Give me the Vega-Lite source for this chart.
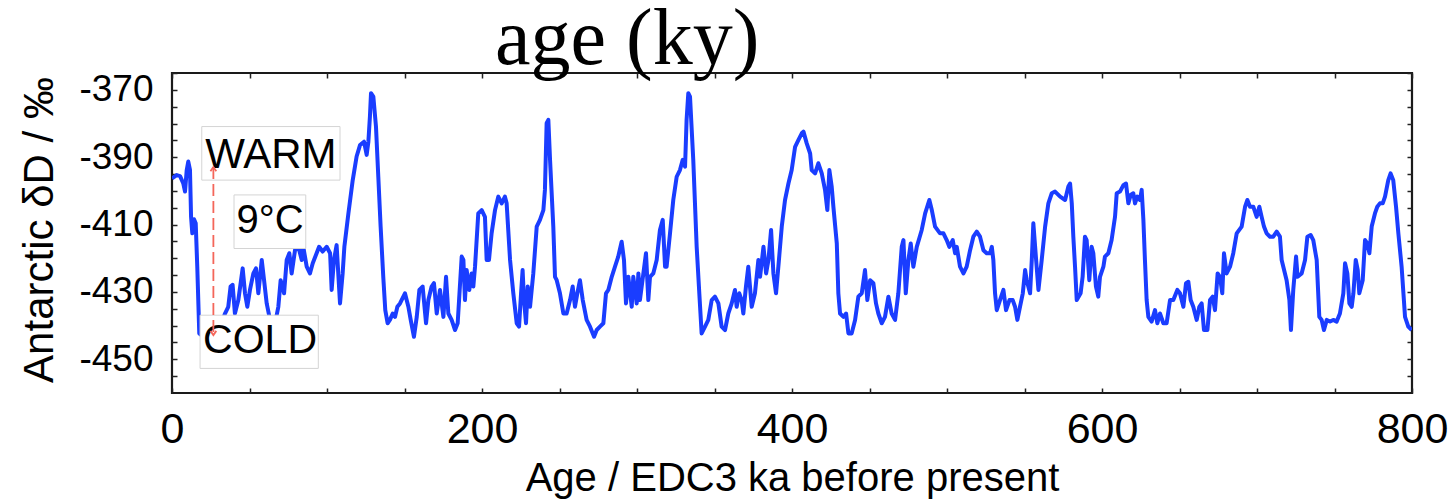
{
  "$schema": "https://vega.github.io/schema/vega-lite/v6.json",
  "width": 1240,
  "height": 320,
  "autosize": {"type": "none"},
  "padding": {"left": 172, "top": 73, "right": 43, "bottom": 111},
  "background": "white",
  "title": {
    "text": "age (ky)",
    "font": "Liberation Serif",
    "fontSize": 80,
    "fontWeight": "normal",
    "color": "#000",
    "anchor": "start",
    "frame": "group",
    "dx": 323,
    "offset": -90,
    "baseline": "alphabetic"
  },
  "config": {
    "view": {"stroke": "#1a1a1a", "strokeWidth": 2.2},
    "axis": {"grid": false, "domain": false, "tickColor": "#222", "tickWidth": 1.5, "labelColor": "#000", "titleColor": "#000", "labelFont": "Liberation Sans", "titleFont": "Liberation Sans", "titleFontWeight": "normal", "labelOverlap": false, "labelFlush": false}
  },
  "resolve": {"axis": {"x": "independent", "y": "independent"}},
  "layer": [
    {
      "data": {"values": [
        {"age": 0, "dD": -396.3}, {"age": 3.0, "dD": -395.3}, {"age": 5.2, "dD": -395.6}, {"age": 7.3, "dD": -397.8}, {"age": 8.4, "dD": -400.2},
        {"age": 9.5, "dD": -393.8}, {"age": 10.5, "dD": -391.3}, {"age": 11.6, "dD": -393.8}, {"age": 12.3, "dD": -407.7}, {"age": 13.1, "dD": -412.6},
        {"age": 14.2, "dD": -408.4}, {"age": 15.3, "dD": -409.6}, {"age": 16.3, "dD": -422.5}, {"age": 17.6, "dD": -442.3}, {"age": 20.2, "dD": -443.3},
        {"age": 26.7, "dD": -441.3}, {"age": 32.0, "dD": -439.3}, {"age": 34.2, "dD": -436.4}, {"age": 36.3, "dD": -434.4}, {"age": 37.8, "dD": -428.4},
        {"age": 39.1, "dD": -427.9}, {"age": 40.6, "dD": -436.4}, {"age": 42.8, "dD": -432.4}, {"age": 45.6, "dD": -423.0}, {"age": 47.1, "dD": -430.4},
        {"age": 48.6, "dD": -434.4}, {"age": 50.3, "dD": -429.4}, {"age": 52.5, "dD": -424.5}, {"age": 54.2, "dD": -423.0}, {"age": 55.7, "dD": -430.4},
        {"age": 57.9, "dD": -420.5}, {"age": 59.4, "dD": -426.5}, {"age": 61.1, "dD": -433.4}, {"age": 63.7, "dD": -439.3}, {"age": 66.5, "dD": -439.3},
        {"age": 68.6, "dD": -434.4}, {"age": 70.1, "dD": -426.5}, {"age": 72.3, "dD": -430.4}, {"age": 74.0, "dD": -420.5}, {"age": 75.7, "dD": -418.5},
        {"age": 77.2, "dD": -424.5}, {"age": 79.4, "dD": -417.5}, {"age": 81.5, "dD": -416.6}, {"age": 83.7, "dD": -420.5}, {"age": 84.7, "dD": -416.6},
        {"age": 86.9, "dD": -422.5}, {"age": 89.0, "dD": -424.5}, {"age": 90.8, "dD": -421.5}, {"age": 93.3, "dD": -418.5}, {"age": 94.9, "dD": -416.6},
        {"age": 97.2, "dD": -418.0}, {"age": 99.8, "dD": -416.6}, {"age": 102.0, "dD": -418.5}, {"age": 103.0, "dD": -429.4}, {"age": 104.5, "dD": -420.5},
        {"age": 106.2, "dD": -416.1}, {"age": 108.4, "dD": -433.4}, {"age": 110.1, "dD": -424.5}, {"age": 111.2, "dD": -416.6}, {"age": 113.8, "dD": -406.7},
        {"age": 116.6, "dD": -396.8}, {"age": 119.1, "dD": -389.8}, {"age": 121.3, "dD": -386.4}, {"age": 123.9, "dD": -385.4}, {"age": 125.6, "dD": -389.3},
        {"age": 126.7, "dD": -385.4}, {"age": 127.7, "dD": -377.9}, {"age": 128.4, "dD": -371.0}, {"age": 129.9, "dD": -372.0}, {"age": 131.6, "dD": -380.9},
        {"age": 133.1, "dD": -395.8}, {"age": 134.6, "dD": -410.6}, {"age": 136.3, "dD": -425.5}, {"age": 137.6, "dD": -435.4}, {"age": 139.1, "dD": -439.3},
        {"age": 140.6, "dD": -438.3}, {"age": 142.4, "dD": -436.4}, {"age": 143.9, "dD": -437.4}, {"age": 145.4, "dD": -434.4}, {"age": 147.1, "dD": -433.4},
        {"age": 150.3, "dD": -430.4}, {"age": 152.5, "dD": -434.4}, {"age": 154.0, "dD": -438.3}, {"age": 156.1, "dD": -443.3}, {"age": 157.9, "dD": -437.4},
        {"age": 159.6, "dD": -429.4}, {"age": 161.7, "dD": -428.4}, {"age": 163.9, "dD": -439.3}, {"age": 165.4, "dD": -432.4}, {"age": 167.5, "dD": -428.4},
        {"age": 169.0, "dD": -427.4}, {"age": 170.8, "dD": -436.4}, {"age": 172.9, "dD": -429.4}, {"age": 175.1, "dD": -437.4}, {"age": 176.8, "dD": -425.5},
        {"age": 178.3, "dD": -436.4}, {"age": 180.4, "dD": -438.3}, {"age": 182.6, "dD": -441.3}, {"age": 184.3, "dD": -439.3}, {"age": 186.9, "dD": -419.5},
        {"age": 188.0, "dD": -420.5}, {"age": 189.0, "dD": -432.4}, {"age": 190.1, "dD": -423.5}, {"age": 191.8, "dD": -429.4}, {"age": 193.3, "dD": -424.5},
        {"age": 194.4, "dD": -428.4}, {"age": 195.5, "dD": -422.5}, {"age": 197.6, "dD": -406.7}, {"age": 199.8, "dD": -405.7}, {"age": 201.9, "dD": -407.7},
        {"age": 203.0, "dD": -420.5}, {"age": 204.5, "dD": -420.5}, {"age": 206.2, "dD": -412.6}, {"age": 208.4, "dD": -405.7}, {"age": 210.5, "dD": -401.7},
        {"age": 212.7, "dD": -403.7}, {"age": 214.8, "dD": -401.7}, {"age": 215.9, "dD": -403.7}, {"age": 218.1, "dD": -420.5}, {"age": 220.2, "dD": -430.4},
        {"age": 222.4, "dD": -439.3}, {"age": 223.9, "dD": -440.3}, {"age": 225.2, "dD": -430.4}, {"age": 226.2, "dD": -423.5}, {"age": 227.1, "dD": -432.4},
        {"age": 228.4, "dD": -439.3}, {"age": 229.5, "dD": -428.4}, {"age": 231.0, "dD": -434.4}, {"age": 233.1, "dD": -424.5}, {"age": 235.3, "dD": -410.6},
        {"age": 237.4, "dD": -408.6}, {"age": 239.6, "dD": -405.7}, {"age": 240.6, "dD": -399.7}, {"age": 241.7, "dD": -379.9}, {"age": 242.8, "dD": -378.9},
        {"age": 243.9, "dD": -390.8}, {"age": 246.0, "dD": -410.6}, {"age": 247.1, "dD": -425.5}, {"age": 248.2, "dD": -426.5}, {"age": 250.3, "dD": -430.4},
        {"age": 252.5, "dD": -436.4}, {"age": 254.6, "dD": -436.4}, {"age": 256.8, "dD": -432.4}, {"age": 258.5, "dD": -428.4}, {"age": 260.0, "dD": -434.4},
        {"age": 261.5, "dD": -430.4}, {"age": 263.2, "dD": -426.5}, {"age": 265.0, "dD": -432.4}, {"age": 267.5, "dD": -438.3}, {"age": 269.7, "dD": -440.3},
        {"age": 272.3, "dD": -443.3}, {"age": 274.0, "dD": -441.3}, {"age": 276.1, "dD": -440.3}, {"age": 278.3, "dD": -439.3}, {"age": 280.0, "dD": -430.4},
        {"age": 281.5, "dD": -429.4}, {"age": 283.7, "dD": -425.5}, {"age": 285.8, "dD": -422.5}, {"age": 287.9, "dD": -419.5}, {"age": 290.1, "dD": -415.1},
        {"age": 291.6, "dD": -420.5}, {"age": 292.9, "dD": -433.4}, {"age": 294.4, "dD": -425.5}, {"age": 296.6, "dD": -434.4}, {"age": 297.6, "dD": -425.5},
        {"age": 299.8, "dD": -433.4}, {"age": 300.9, "dD": -424.5}, {"age": 301.9, "dD": -432.4}, {"age": 304.1, "dD": -424.5}, {"age": 305.8, "dD": -418.5},
        {"age": 307.3, "dD": -432.4}, {"age": 308.4, "dD": -425.5}, {"age": 310.5, "dD": -424.5}, {"age": 312.7, "dD": -420.5}, {"age": 314.8, "dD": -411.6},
        {"age": 316.6, "dD": -408.6}, {"age": 318.1, "dD": -422.5}, {"age": 319.1, "dD": -422.5}, {"age": 321.3, "dD": -412.6}, {"age": 323.4, "dD": -402.7},
        {"age": 325.6, "dD": -395.8}, {"age": 327.7, "dD": -393.8}, {"age": 329.5, "dD": -390.8}, {"age": 331.0, "dD": -392.8}, {"age": 332.0, "dD": -378.9},
        {"age": 333.1, "dD": -371.0}, {"age": 334.2, "dD": -372.0}, {"age": 336.3, "dD": -390.8}, {"age": 338.5, "dD": -416.6}, {"age": 340.2, "dD": -430.4},
        {"age": 341.7, "dD": -442.3}, {"age": 343.9, "dD": -440.3}, {"age": 346.0, "dD": -438.3}, {"age": 348.2, "dD": -432.4}, {"age": 350.3, "dD": -431.4},
        {"age": 352.5, "dD": -433.4}, {"age": 354.6, "dD": -440.3}, {"age": 356.8, "dD": -441.3}, {"age": 358.9, "dD": -436.4}, {"age": 361.1, "dD": -433.4},
        {"age": 363.2, "dD": -429.4}, {"age": 364.3, "dD": -434.4}, {"age": 366.0, "dD": -430.4}, {"age": 367.5, "dD": -432.4}, {"age": 368.6, "dD": -436.4},
        {"age": 370.3, "dD": -428.4}, {"age": 371.8, "dD": -422.5}, {"age": 374.0, "dD": -434.4}, {"age": 376.1, "dD": -430.4}, {"age": 378.3, "dD": -420.5},
        {"age": 379.4, "dD": -425.5}, {"age": 381.6, "dD": -416.6}, {"age": 383.3, "dD": -424.5}, {"age": 384.8, "dD": -420.5}, {"age": 386.5, "dD": -411.6},
        {"age": 388.0, "dD": -424.5}, {"age": 389.7, "dD": -430.4}, {"age": 391.2, "dD": -422.5}, {"age": 393.4, "dD": -410.6}, {"age": 395.5, "dD": -402.7},
        {"age": 397.7, "dD": -397.8}, {"age": 399.8, "dD": -393.8}, {"age": 402.0, "dD": -386.9}, {"age": 404.1, "dD": -384.9}, {"age": 406.3, "dD": -382.9},
        {"age": 407.4, "dD": -382.4}, {"age": 409.5, "dD": -385.9}, {"age": 411.7, "dD": -388.9}, {"age": 412.7, "dD": -393.8}, {"age": 414.9, "dD": -394.8},
        {"age": 417.0, "dD": -391.8}, {"age": 419.2, "dD": -394.8}, {"age": 421.3, "dD": -399.7}, {"age": 422.8, "dD": -405.7}, {"age": 424.1, "dD": -393.8},
        {"age": 425.6, "dD": -398.7}, {"age": 426.7, "dD": -404.7}, {"age": 428.9, "dD": -415.6}, {"age": 429.9, "dD": -430.4}, {"age": 431.0, "dD": -436.4},
        {"age": 433.2, "dD": -437.4}, {"age": 434.9, "dD": -436.4}, {"age": 436.4, "dD": -442.3}, {"age": 438.5, "dD": -442.3}, {"age": 440.7, "dD": -438.3},
        {"age": 442.8, "dD": -431.4}, {"age": 445.0, "dD": -430.4}, {"age": 447.1, "dD": -423.5}, {"age": 448.6, "dD": -432.4}, {"age": 450.4, "dD": -426.5},
        {"age": 452.5, "dD": -427.4}, {"age": 454.2, "dD": -433.4}, {"age": 455.7, "dD": -436.4}, {"age": 457.9, "dD": -439.3}, {"age": 460.0, "dD": -437.4},
        {"age": 462.2, "dD": -431.4}, {"age": 464.3, "dD": -436.4}, {"age": 466.5, "dD": -438.3}, {"age": 468.6, "dD": -430.4}, {"age": 470.8, "dD": -416.6},
        {"age": 471.9, "dD": -414.6}, {"age": 473.4, "dD": -430.4}, {"age": 475.1, "dD": -420.5}, {"age": 476.6, "dD": -415.6}, {"age": 478.3, "dD": -422.5},
        {"age": 480.5, "dD": -416.6}, {"age": 483.7, "dD": -411.6}, {"age": 485.9, "dD": -406.7}, {"age": 488.6, "dD": -402.7}, {"age": 490.2, "dD": -405.7},
        {"age": 492.3, "dD": -410.6}, {"age": 495.5, "dD": -412.6}, {"age": 497.7, "dD": -412.6}, {"age": 499.8, "dD": -414.6}, {"age": 501.5, "dD": -416.6},
        {"age": 503.7, "dD": -414.6}, {"age": 505.2, "dD": -418.5}, {"age": 506.3, "dD": -416.6}, {"age": 508.4, "dD": -422.5}, {"age": 510.6, "dD": -424.5},
        {"age": 512.7, "dD": -422.5}, {"age": 514.9, "dD": -417.6}, {"age": 517.0, "dD": -413.6}, {"age": 519.2, "dD": -412.1}, {"age": 521.3, "dD": -413.6},
        {"age": 523.5, "dD": -417.6}, {"age": 525.6, "dD": -418.5}, {"age": 527.8, "dD": -418.5}, {"age": 528.9, "dD": -416.6}, {"age": 529.9, "dD": -420.5},
        {"age": 531.0, "dD": -430.4}, {"age": 532.1, "dD": -435.4}, {"age": 534.2, "dD": -432.4}, {"age": 536.4, "dD": -429.4}, {"age": 538.1, "dD": -435.4},
        {"age": 540.3, "dD": -432.4}, {"age": 542.4, "dD": -432.4}, {"age": 543.9, "dD": -434.4}, {"age": 545.4, "dD": -438.3}, {"age": 547.1, "dD": -434.4},
        {"age": 548.9, "dD": -430.4}, {"age": 550.4, "dD": -423.5}, {"age": 551.4, "dD": -426.5}, {"age": 553.6, "dD": -430.4}, {"age": 554.7, "dD": -420.5},
        {"age": 555.7, "dD": -409.6}, {"age": 557.5, "dD": -420.5}, {"age": 559.0, "dD": -429.4}, {"age": 561.1, "dD": -420.5}, {"age": 563.3, "dD": -410.6},
        {"age": 565.4, "dD": -403.7}, {"age": 567.6, "dD": -400.7}, {"age": 569.7, "dD": -400.2}, {"age": 573.0, "dD": -401.7}, {"age": 576.2, "dD": -402.7},
        {"age": 578.3, "dD": -398.7}, {"age": 579.4, "dD": -397.8}, {"age": 580.5, "dD": -403.7}, {"age": 581.5, "dD": -413.6}, {"age": 582.6, "dD": -422.5},
        {"age": 583.7, "dD": -432.4}, {"age": 586.2, "dD": -430.4}, {"age": 587.5, "dD": -425.5}, {"age": 589.0, "dD": -413.6}, {"age": 590.1, "dD": -414.6},
        {"age": 591.8, "dD": -426.5}, {"age": 593.3, "dD": -416.6}, {"age": 594.4, "dD": -418.5}, {"age": 596.1, "dD": -428.4}, {"age": 597.6, "dD": -431.4},
        {"age": 598.7, "dD": -425.5}, {"age": 600.9, "dD": -422.5}, {"age": 601.9, "dD": -419.5}, {"age": 604.1, "dD": -418.5}, {"age": 606.2, "dD": -414.6},
        {"age": 608.4, "dD": -407.7}, {"age": 609.5, "dD": -400.7}, {"age": 611.6, "dD": -400.2}, {"age": 613.8, "dD": -398.3}, {"age": 615.5, "dD": -397.8},
        {"age": 617.0, "dD": -403.7}, {"age": 618.5, "dD": -401.2}, {"age": 620.2, "dD": -400.7}, {"age": 621.3, "dD": -403.7}, {"age": 622.8, "dD": -401.7},
        {"age": 624.5, "dD": -402.7}, {"age": 625.6, "dD": -399.7}, {"age": 626.7, "dD": -408.6}, {"age": 627.7, "dD": -420.5}, {"age": 628.8, "dD": -432.4},
        {"age": 629.9, "dD": -437.4}, {"age": 632.0, "dD": -438.8}, {"age": 634.2, "dD": -435.4}, {"age": 635.7, "dD": -439.3}, {"age": 637.4, "dD": -436.4},
        {"age": 639.6, "dD": -439.3}, {"age": 641.7, "dD": -439.3}, {"age": 643.9, "dD": -432.4}, {"age": 646.0, "dD": -432.4}, {"age": 648.6, "dD": -429.4},
        {"age": 650.3, "dD": -430.4}, {"age": 652.5, "dD": -434.4}, {"age": 654.2, "dD": -427.4}, {"age": 655.7, "dD": -427.0}, {"age": 657.2, "dD": -432.4},
        {"age": 658.9, "dD": -434.4}, {"age": 661.1, "dD": -438.3}, {"age": 662.8, "dD": -434.4}, {"age": 664.3, "dD": -433.4}, {"age": 665.8, "dD": -441.3},
        {"age": 668.0, "dD": -441.3}, {"age": 669.7, "dD": -432.4}, {"age": 671.4, "dD": -431.4}, {"age": 672.9, "dD": -435.4}, {"age": 674.6, "dD": -424.5},
        {"age": 676.1, "dD": -425.5}, {"age": 677.6, "dD": -430.4}, {"age": 678.7, "dD": -418.5}, {"age": 680.4, "dD": -424.5}, {"age": 682.6, "dD": -422.5},
        {"age": 684.7, "dD": -418.5}, {"age": 686.9, "dD": -412.6}, {"age": 690.1, "dD": -410.6}, {"age": 692.3, "dD": -404.7}, {"age": 693.8, "dD": -402.7},
        {"age": 695.5, "dD": -404.7}, {"age": 697.6, "dD": -404.7}, {"age": 699.8, "dD": -407.7}, {"age": 701.5, "dD": -404.7}, {"age": 703.0, "dD": -407.7},
        {"age": 704.5, "dD": -410.6}, {"age": 706.2, "dD": -412.6}, {"age": 708.4, "dD": -413.6}, {"age": 710.5, "dD": -413.6}, {"age": 712.7, "dD": -412.1},
        {"age": 714.8, "dD": -413.6}, {"age": 715.9, "dD": -420.5}, {"age": 719.1, "dD": -426.5}, {"age": 720.9, "dD": -432.4}, {"age": 721.9, "dD": -441.3},
        {"age": 723.4, "dD": -429.4}, {"age": 725.2, "dD": -419.5}, {"age": 726.2, "dD": -425.5}, {"age": 728.8, "dD": -424.5}, {"age": 731.0, "dD": -420.5},
        {"age": 732.5, "dD": -413.6}, {"age": 734.6, "dD": -413.1}, {"age": 736.3, "dD": -414.6}, {"age": 738.5, "dD": -420.5}, {"age": 740.2, "dD": -437.4},
        {"age": 741.7, "dD": -438.3}, {"age": 743.2, "dD": -441.3}, {"age": 745.0, "dD": -438.3}, {"age": 747.1, "dD": -438.8}, {"age": 749.2, "dD": -438.3},
        {"age": 751.4, "dD": -438.8}, {"age": 753.5, "dD": -436.4}, {"age": 755.7, "dD": -430.4}, {"age": 756.8, "dD": -421.5}, {"age": 758.3, "dD": -424.5},
        {"age": 759.6, "dD": -433.4}, {"age": 761.1, "dD": -434.4}, {"age": 762.2, "dD": -430.4}, {"age": 763.7, "dD": -420.5}, {"age": 765.0, "dD": -423.5},
        {"age": 766.0, "dD": -430.4}, {"age": 768.2, "dD": -426.5}, {"age": 769.7, "dD": -414.6}, {"age": 771.2, "dD": -415.6}, {"age": 772.5, "dD": -418.5},
        {"age": 774.0, "dD": -410.6}, {"age": 776.1, "dD": -406.7}, {"age": 777.6, "dD": -404.7}, {"age": 779.3, "dD": -403.7}, {"age": 781.1, "dD": -403.7},
        {"age": 782.6, "dD": -401.7}, {"age": 784.7, "dD": -396.8}, {"age": 786.2, "dD": -394.8}, {"age": 787.9, "dD": -396.8}, {"age": 789.7, "dD": -404.7},
        {"age": 791.2, "dD": -412.6}, {"age": 793.3, "dD": -422.5}, {"age": 795.5, "dD": -437.4}, {"age": 797.6, "dD": -440.3}, {"age": 799.8, "dD": -441.3}
      ]},
      "mark": {"type": "line", "color": "#1a3dff", "strokeWidth": 4, "strokeJoin": "round", "clip": true},
      "encoding": {
        "x": {
          "field": "age", "type": "quantitative",
          "scale": {"domain": [0, 800], "nice": false, "zero": false},
          "axis": {
            "orient": "bottom",
            "values": [0, 50, 100, 150, 200, 250, 300, 350, 400, 450, 500, 550, 600, 650, 700, 750, 800],
            "labelExpr": "datum.value % 200 === 0 ? toString(datum.value) : ''",
            "tickSize": -5,
            "labelFontSize": 43,
            "labelPadding": 20,
            "title": "Age / EDC3 ka before present",
            "titleFontSize": 40,
            "titleX": 620,
            "titleY": 97,
            "titleAlign": "center",
            "titleBaseline": "alphabetic"
          }
        },
        "y": {
          "field": "dD", "type": "quantitative",
          "scale": {"domain": [-460, -365], "nice": false, "zero": false},
          "axis": {
            "orient": "left",
            "values": [-455, -450, -445, -440, -435, -430, -425, -420, -415, -410, -405, -400, -395, -390, -385, -380, -375, -370, -365],
            "labelExpr": "datum.value % 20 === -10 ? toString(datum.value) : ''",
            "tickSize": -5,
            "labelFontSize": 37,
            "labelPadding": 24,
            "title": "Antarctic δD / ‰",
            "titleFontSize": 42,
            "titleAngle": 270,
            "titleX": -120,
            "titleY": 156.5,
            "titleAlign": "center",
            "titleBaseline": "alphabetic"
          }
        }
      }
    },
    {
      "data": {"values": [
        {"label": "WARM", "x0": 19.2, "x1": 108.4, "y0": -380.9, "y1": -396.8},
        {"label": "9°C", "x0": 40.0, "x1": 86.3, "y0": -401.2, "y1": -417.1},
        {"label": "COLD", "x0": 18.1, "x1": 94.4, "y0": -436.9, "y1": -452.7}
      ]},
      "mark": {"type": "rect", "fill": "white", "stroke": "#d4d4d4", "strokeWidth": 1},
      "encoding": {
        "x": {
          "field": "x0", "type": "quantitative",
          "scale": {"domain": [0, 800], "nice": false, "zero": false},
          "axis": {"orient": "top", "values": [0, 50, 100, 150, 200, 250, 300, 350, 400, 450, 500, 550, 600, 650, 700, 750, 800], "labels": false, "tickSize": -5, "title": null}
        },
        "x2": {"field": "x1"},
        "y": {
          "field": "y0", "type": "quantitative",
          "scale": {"domain": [-460, -365], "nice": false, "zero": false},
          "axis": {"orient": "right", "values": [-455, -450, -445, -440, -435, -430, -425, -420, -415, -410, -405, -400, -395, -390, -385, -380, -375, -370, -365], "labels": false, "tickSize": -5, "title": null}
        },
        "y2": {"field": "y1"}
      }
    },
    {
      "data": {"values": [
        {"label": "WARM", "x": 63.8, "y": -389.3, "size": 42},
        {"label": "9°C", "x": 63.2, "y": -409.0, "size": 40},
        {"label": "COLD", "x": 56.8, "y": -444.6, "size": 41}
      ]},
      "mark": {"type": "text", "font": "Liberation Sans", "color": "#000", "align": "center", "baseline": "middle"},
      "encoding": {
        "x": {"field": "x", "type": "quantitative", "scale": {"domain": [0, 800], "nice": false, "zero": false}, "axis": null},
        "y": {"field": "y", "type": "quantitative", "scale": {"domain": [-460, -365], "nice": false, "zero": false}, "axis": null},
        "text": {"field": "label"},
        "size": {"field": "size", "type": "quantitative", "scale": null, "legend": null}
      }
    },
    {
      "data": {"values": [{"x": 26.7, "top": -392.9, "bottom": -442.8}]},
      "mark": {"type": "rule", "color": "#f4665a", "strokeWidth": 1.8, "strokeDash": [12, 5]},
      "encoding": {
        "x": {"field": "x", "type": "quantitative", "scale": {"domain": [0, 800], "nice": false, "zero": false}, "axis": null},
        "y": {"field": "top", "type": "quantitative", "scale": {"domain": [-460, -365], "nice": false, "zero": false}, "axis": null},
        "y2": {"field": "bottom"}
      }
    },
    {
      "data": {"values": [
        {"x": 26.7, "y": -392.9, "head": "M-0.7,1L0,0L0.7,1"},
        {"x": 26.7, "y": -442.8, "head": "M-0.7,-1L0,0L0.7,-1"}
      ]},
      "mark": {"type": "point", "filled": false, "stroke": "#f4665a", "strokeWidth": 1.8, "size": 70, "opacity": 1},
      "encoding": {
        "x": {"field": "x", "type": "quantitative", "scale": {"domain": [0, 800], "nice": false, "zero": false}, "axis": null},
        "y": {"field": "y", "type": "quantitative", "scale": {"domain": [-460, -365], "nice": false, "zero": false}, "axis": null},
        "shape": {"field": "head", "type": "nominal", "scale": null, "legend": null}
      }
    }
  ]
}
